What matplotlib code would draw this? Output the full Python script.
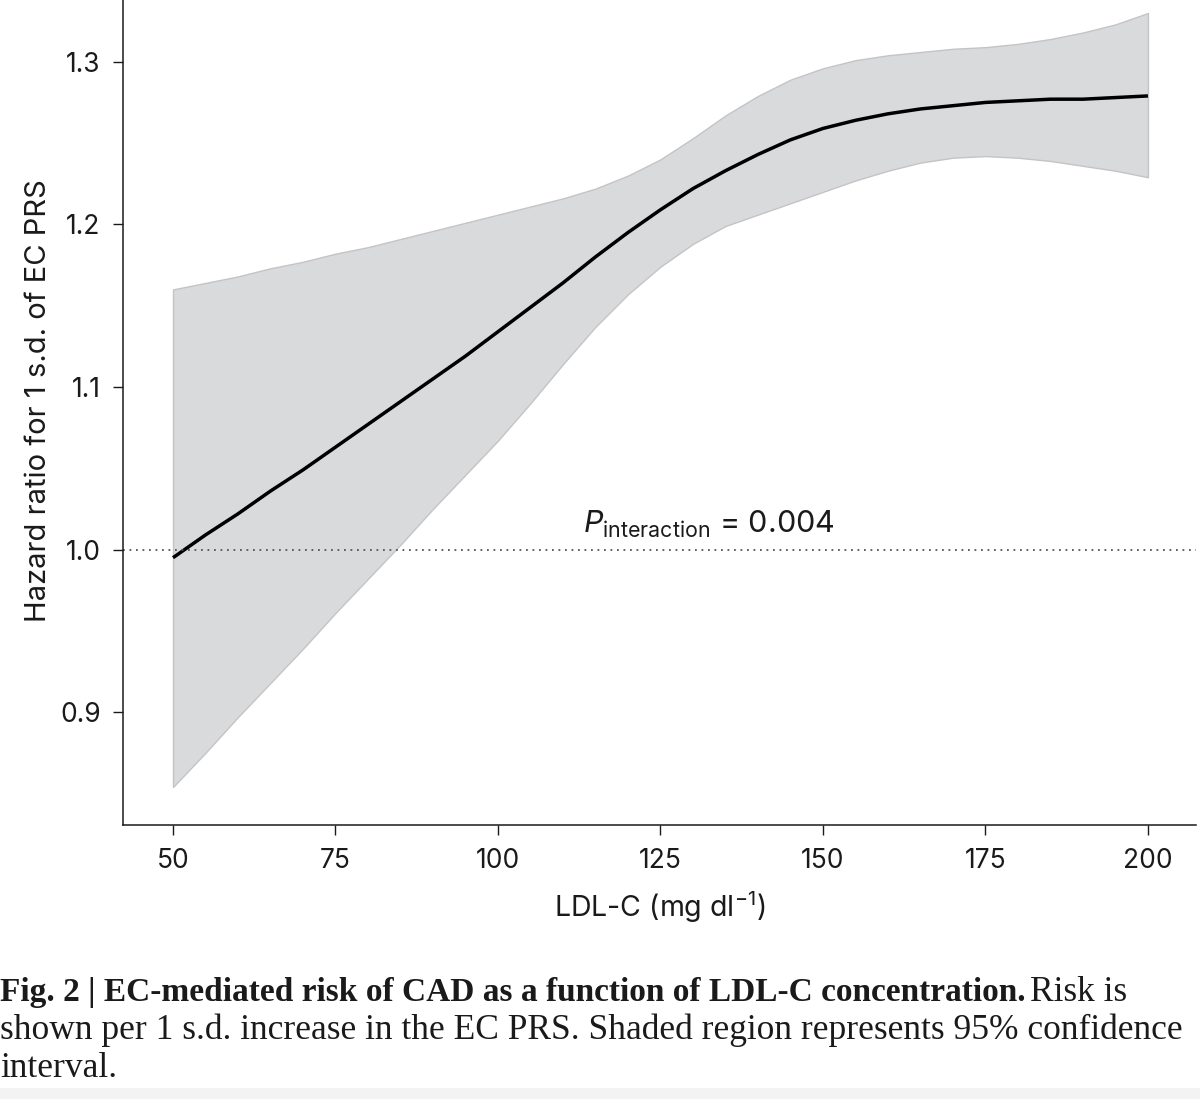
import matplotlib
matplotlib.use("Agg")
import matplotlib.pyplot as plt
from matplotlib.patches import Rectangle

# LDL-C grid (mg/dl) and hazard ratio
ldl = [50, 55, 60, 65, 70, 75, 80, 85, 90, 95, 100, 105, 110, 115, 120, 125,
       130, 135, 140, 145, 150, 155, 160, 165, 170, 175, 180, 185, 190, 195, 200]
hr = [0.995, 1.009, 1.022, 1.036, 1.049, 1.063, 1.077, 1.091, 1.105, 1.119,
      1.134, 1.149, 1.164, 1.180, 1.195, 1.209, 1.222, 1.233, 1.243, 1.252,
      1.259, 1.264, 1.268, 1.271, 1.273, 1.275, 1.276, 1.277, 1.277, 1.278, 1.279]
ci_upper = [1.160, 1.164, 1.168, 1.173, 1.177, 1.182, 1.186, 1.191, 1.196, 1.201,
            1.206, 1.211, 1.216, 1.222, 1.230, 1.240, 1.253, 1.267, 1.279, 1.289,
            1.296, 1.301, 1.304, 1.306, 1.308, 1.309, 1.311, 1.314, 1.318, 1.323, 1.330]
ci_lower = [0.854, 0.875, 0.897, 0.918, 0.939, 0.961, 0.982, 1.003, 1.025, 1.046,
            1.067, 1.090, 1.114, 1.137, 1.157, 1.174, 1.188, 1.199, 1.206, 1.213,
            1.220, 1.227, 1.233, 1.238, 1.241, 1.242, 1.241, 1.239, 1.236, 1.233, 1.229]

x_ticks = [50, 75, 100, 125, 150, 175, 200]
y_ticks = [0.9, 1.0, 1.1, 1.2, 1.3]
p_text = "0.004"

plt.rcParams['font.family'] = ['Inter', 'DejaVu Sans']
plt.rcParams['mathtext.fontset'] = 'custom'
plt.rcParams['mathtext.rm'] = 'Inter'
plt.rcParams['mathtext.it'] = 'Inter:italic'

ink = '#1a1a1a'
fig = plt.figure(figsize=(12, 10.99), dpi=100)
ax = fig.add_axes([0.1029, 0.2493, 0.8938, 0.7507])

ax.fill_between(ldl, ci_lower, ci_upper, facecolor='#d9dadc', edgecolor='#c4c4c6', linewidth=1.0)
ax.plot(ldl, hr, color='black', linewidth=2.5, solid_capstyle='butt', solid_joinstyle='round')
ax.axhline(1.0, color='#555555', linestyle=(0, (1, 2.6)), linewidth=1.3)

ax.text(113.1, 1.0101, r'$P_{\mathrm{interaction}}$ = ' + p_text, fontsize=22, color=ink,
        va='baseline')

ax.set_xlim(42.38, 207.4)
ax.set_ylim(0.8306, 1.338)
ax.set_xticks(x_ticks)
ax.set_xticklabels([str(v) for v in x_ticks])
ax.set_yticks(y_ticks)
ax.set_yticklabels([f'{v:.1f}' for v in y_ticks])

for side in ['top', 'right']:
    ax.spines[side].set_visible(False)
for side in ['left', 'bottom']:
    ax.spines[side].set_linewidth(1.1)
    ax.spines[side].set_color(ink)
ax.tick_params(axis='both', length=7.5, width=1.0, color=ink, labelcolor=ink,
               labelsize=19, pad=9)

ax.set_xlabel('LDL-C (mg dl$^{-1}$)', fontsize=20.5, color=ink, labelpad=11)
ax.set_ylabel('Hazard ratio for 1 s.d. of EC PRS', fontsize=21, color=ink, labelpad=6, y=0.515)

# caption below the chart
cap_font = ['Liberation Serif', 'DejaVu Serif']
fig.canvas.draw()
renderer = fig.canvas.get_renderer()
bold = fig.text(0.0, 1 - 1001 / 1099, 'Fig. 2 | EC-mediated risk of CAD as a function of LDL-C concentration.',
                family=cap_font, fontsize=24, fontweight='bold', color=ink)
bb = bold.get_window_extent(renderer)
fig.text(bb.x1 / fig.bbox.width + 0.004, 1 - 1001 / 1099, 'Risk is',
         family=cap_font, fontsize=25.5, color=ink)
fig.text(0.0, 1 - 1039 / 1099, 'shown per 1 s.d. increase in the EC PRS. Shaded region represents 95% confidence',
         family=cap_font, fontsize=25.5, color=ink)
fig.text(0.0, 1 - 1077 / 1099, 'interval.', family=cap_font, fontsize=25.5, color=ink)

# faint strip at the very bottom of the screenshot
fig.patches.append(Rectangle((0, 0), 1, 11 / 1099, transform=fig.transFigure,
                             facecolor='#f3f3f3', edgecolor='none', zorder=-1))

fig.savefig('out.png', dpi=100)
